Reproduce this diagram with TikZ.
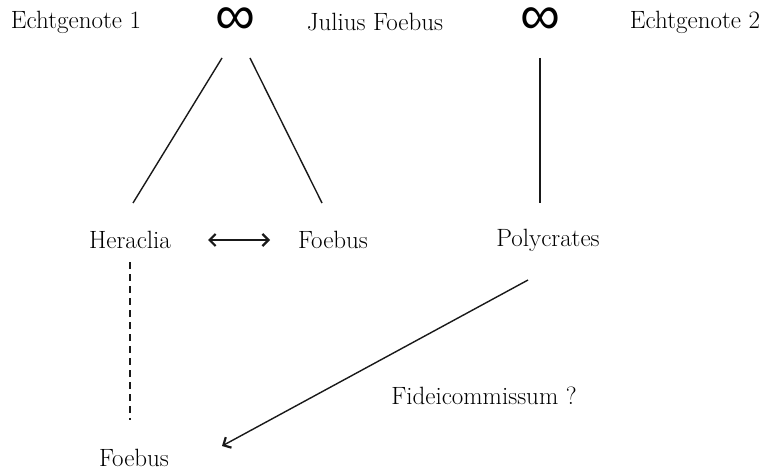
\documentclass[tikz,border=0pt]{standalone}
\usepackage{fontspec}
\newfontfamily\symfont{Liberation Sans}
\usetikzlibrary{arrows.meta}
\begin{document}
\begin{tikzpicture}[x=1pt,y=-1pt,
  lbl/.style={inner sep=0pt, font=\fontsize{25}{28}\selectfont},
  inf/.style={inner sep=0pt, text height=14pt, text depth=0pt, font=\symfont\fontsize{56}{56}\selectfont},
  conn/.style={line width=1.4pt, draw=black!90},
  barb/.tip={Straight Barb[length=6pt,width=12pt,line width=2.2pt]}]
\useasboundingbox (0,0) rectangle (767,470);
\node[lbl] (e1) at (76,22) {Echtgenote 1};
\node[inf] (i1) at (235,28) {∞};
\node[lbl] (jf) at (375,22) {Julius Foebus};
\node[inf] (i2) at (540,28) {∞};
\node[lbl] (e2) at (695,22) {Echtgenote 2};
\node[lbl] (her) at (130,240) {Heraclia};
\node[lbl] (foe) at (333,240) {Foebus};
\node[lbl] (pol) at (548,240) {Polycrates};
\node[lbl] (fid) at (484,396) {Fideicommissum ?};
\node[lbl] (foeb) at (134,458) {Foebus};
\coordinate (a1) at (222,58);
\coordinate (a2) at (250,58);
\coordinate (a3) at (540,58);
\coordinate (b1) at (133,203);
\coordinate (b2) at (322,203);
\coordinate (b3) at (540,203);
\coordinate (d1) at (208,240);
\coordinate (d2) at (270,240);
\coordinate (p1) at (528,280);
\coordinate (p2) at (222,446);
\coordinate (h1) at (130,262);
\coordinate (h2) at (130,420);
\draw[conn] (a1) -- (b1);
\draw[conn] (a2) -- (b2);
\draw[conn] (a3) -- (b3);
\draw[conn,barb-barb] (d1) -- (d2);
\draw[conn,dash pattern=on 7pt off 5pt] (h1) -- (h2);
\draw[conn,-barb] (p1) -- (p2);
\end{tikzpicture}
\end{document}
